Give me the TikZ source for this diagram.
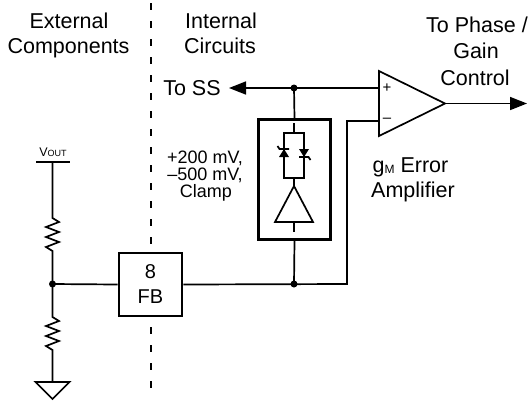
\documentclass[tikz,border=0pt]{standalone}
\usepackage{fontspec}
\setmainfont{Liberation Sans}
\usetikzlibrary{arrows.meta}
\begin{document}
\begin{tikzpicture}[x=1pt,y=-1pt,
  wire/.style={line width=1.7pt},
  boxline/.style={line width=2.6pt},
  lbl/.style={inner sep=0pt, anchor=base, font=\fontsize{21.5}{21.5}\selectfont},
  smalllbl/.style={inner sep=0pt, anchor=base, font=\fontsize{18}{18}\selectfont},
  sign/.style={inner sep=0pt, font=\fontsize{15}{15}\selectfont},
  jdot/.style={circle, fill, inner sep=0pt, minimum size=7pt},
  bigtip/.style={-{Triangle[length=17pt,width=13pt]}},
]
\useasboundingbox (0,0) rectangle (532,400);

% boundary between external and internal
\draw[line width=2.5pt, dash pattern=on 7pt off 11pt] (151,3) -- (151,390);

% headers
\node[lbl] (ext1) at (69,28) {External};
\node[lbl] (ext2) at (68.5,53) {Components};
\node[lbl] (int1) at (221,28) {Internal};
\node[lbl] (int2) at (220,53) {Circuits};
\node[lbl] (tph1) at (477,32) {To Phase /};
\node[lbl] (tph2) at (476,58) {Gain};
\node[lbl] (tph3) at (475,85) {Control};
\node[lbl] (toss) at (192,95) {To SS};
\node[lbl] (gm1) at (410.5,172) {g\raisebox{-1pt}{\fontsize{12}{12}\selectfont M} Error};
\node[lbl] (gm2) at (413,197) {Amplifier};
\node[smalllbl] (cl1) at (205,163) {+200 mV,};
\node[smalllbl] (cl2) at (205,180) {–500 mV,};
\node[smalllbl] (cl3) at (206,197) {Clamp};

% coordinates
\coordinate (jtop) at (294,88);
\coordinate (jbot) at (294,284);
\coordinate (jdiv) at (52.5,284);
\coordinate (vout) at (52.5,162);
\coordinate (gnd) at (52.5,382);
\coordinate (plus) at (379,88);
\coordinate (minus) at (379,121);
\coordinate (oaout) at (445,103.5);
\coordinate (outtip) at (527,103.5);
\coordinate (sstip) at (229,88);
\coordinate (bend) at (347,284);

% FB pin box
\node[draw, boxline, fill=white, minimum width=63pt, minimum height=63pt, inner sep=0pt] (fb) at (150.5,284.5) {};
\node[inner sep=0pt, anchor=base, font=\fontsize{20}{20}\selectfont] (fbn) at (150.5,278) {8};
\node[inner sep=0pt, anchor=base, font=\fontsize{20}{20}\selectfont] (fbt) at (150.5,303) {FB};

% clamp box
\node[draw, boxline, minimum width=72.5pt, minimum height=120.5pt, inner sep=0pt] (clamp) at (294.5,179.5) {};
\draw[wire] (284,133) rectangle (304,178);
\draw[wire] (294,123) -- (294,133);
\draw[wire] (294,178) -- (294,186);
% diodes (zener)
\fill (279,157) -- (289,157) -- (284,149) -- cycle;
\draw[wire] (277.5,146) -- (279.5,149) -- (289,149);
\fill (299,149) -- (309,149) -- (304,157) -- cycle;
\draw[wire] (299,157) -- (308.5,157) -- (310.5,160);
% buffer
\draw[wire, line join=miter] (275,222) -- (313,222) -- (294,186) -- cycle;
\draw[wire] (294,222) -- (294,232);

% error amplifier
\draw[wire, line join=miter] (379,71) -- (379,136) -- (oaout) -- cycle;
\node[sign] (pl) at (387,88) {+};
\node[sign] (mi) at (387,120) {–};

% connections
\draw[wire, bigtip] (jtop) -- (sstip);
\draw[wire] (jtop) -- (plus);
\draw[wire] (jtop) -- (clamp.north);
\draw[wire] (clamp.south) -- (jbot);
\draw[wire] (jdiv) -- (fb.west);
\draw[wire] (fb.east) -- (bend) |- (minus);
\draw[wire, bigtip] (oaout) -- (outtip);

% divider
\draw[line width=2.2pt] (36,162) -- (70,162);
\node[inner sep=0pt, anchor=base] (voutl) at (53,156) {\fontsize{12.5}{12.5}\selectfont V\fontsize{9}{9}\selectfont OUT};
\draw[wire, line join=miter] (vout) -- (52.5,218) -- (59,222) -- (46,227) -- (59,232) -- (46,237) -- (59,242) -- (46,247) -- (52.5,251) -- (jdiv);
\draw[wire, line join=miter] (jdiv) -- (52.5,317) -- (59,321) -- (46,326) -- (59,331) -- (46,336) -- (59,341) -- (46,346) -- (52.5,350) -- (gnd);
\draw[wire, line join=miter] (35.5,382) -- (69.5,382) -- (52.5,399) -- cycle;

% junction dots
\node[jdot] (d1) at (jtop) {};
\node[jdot] (d2) at (jbot) {};
\node[jdot] (d3) at (jdiv) {};
\end{tikzpicture}
\end{document}
